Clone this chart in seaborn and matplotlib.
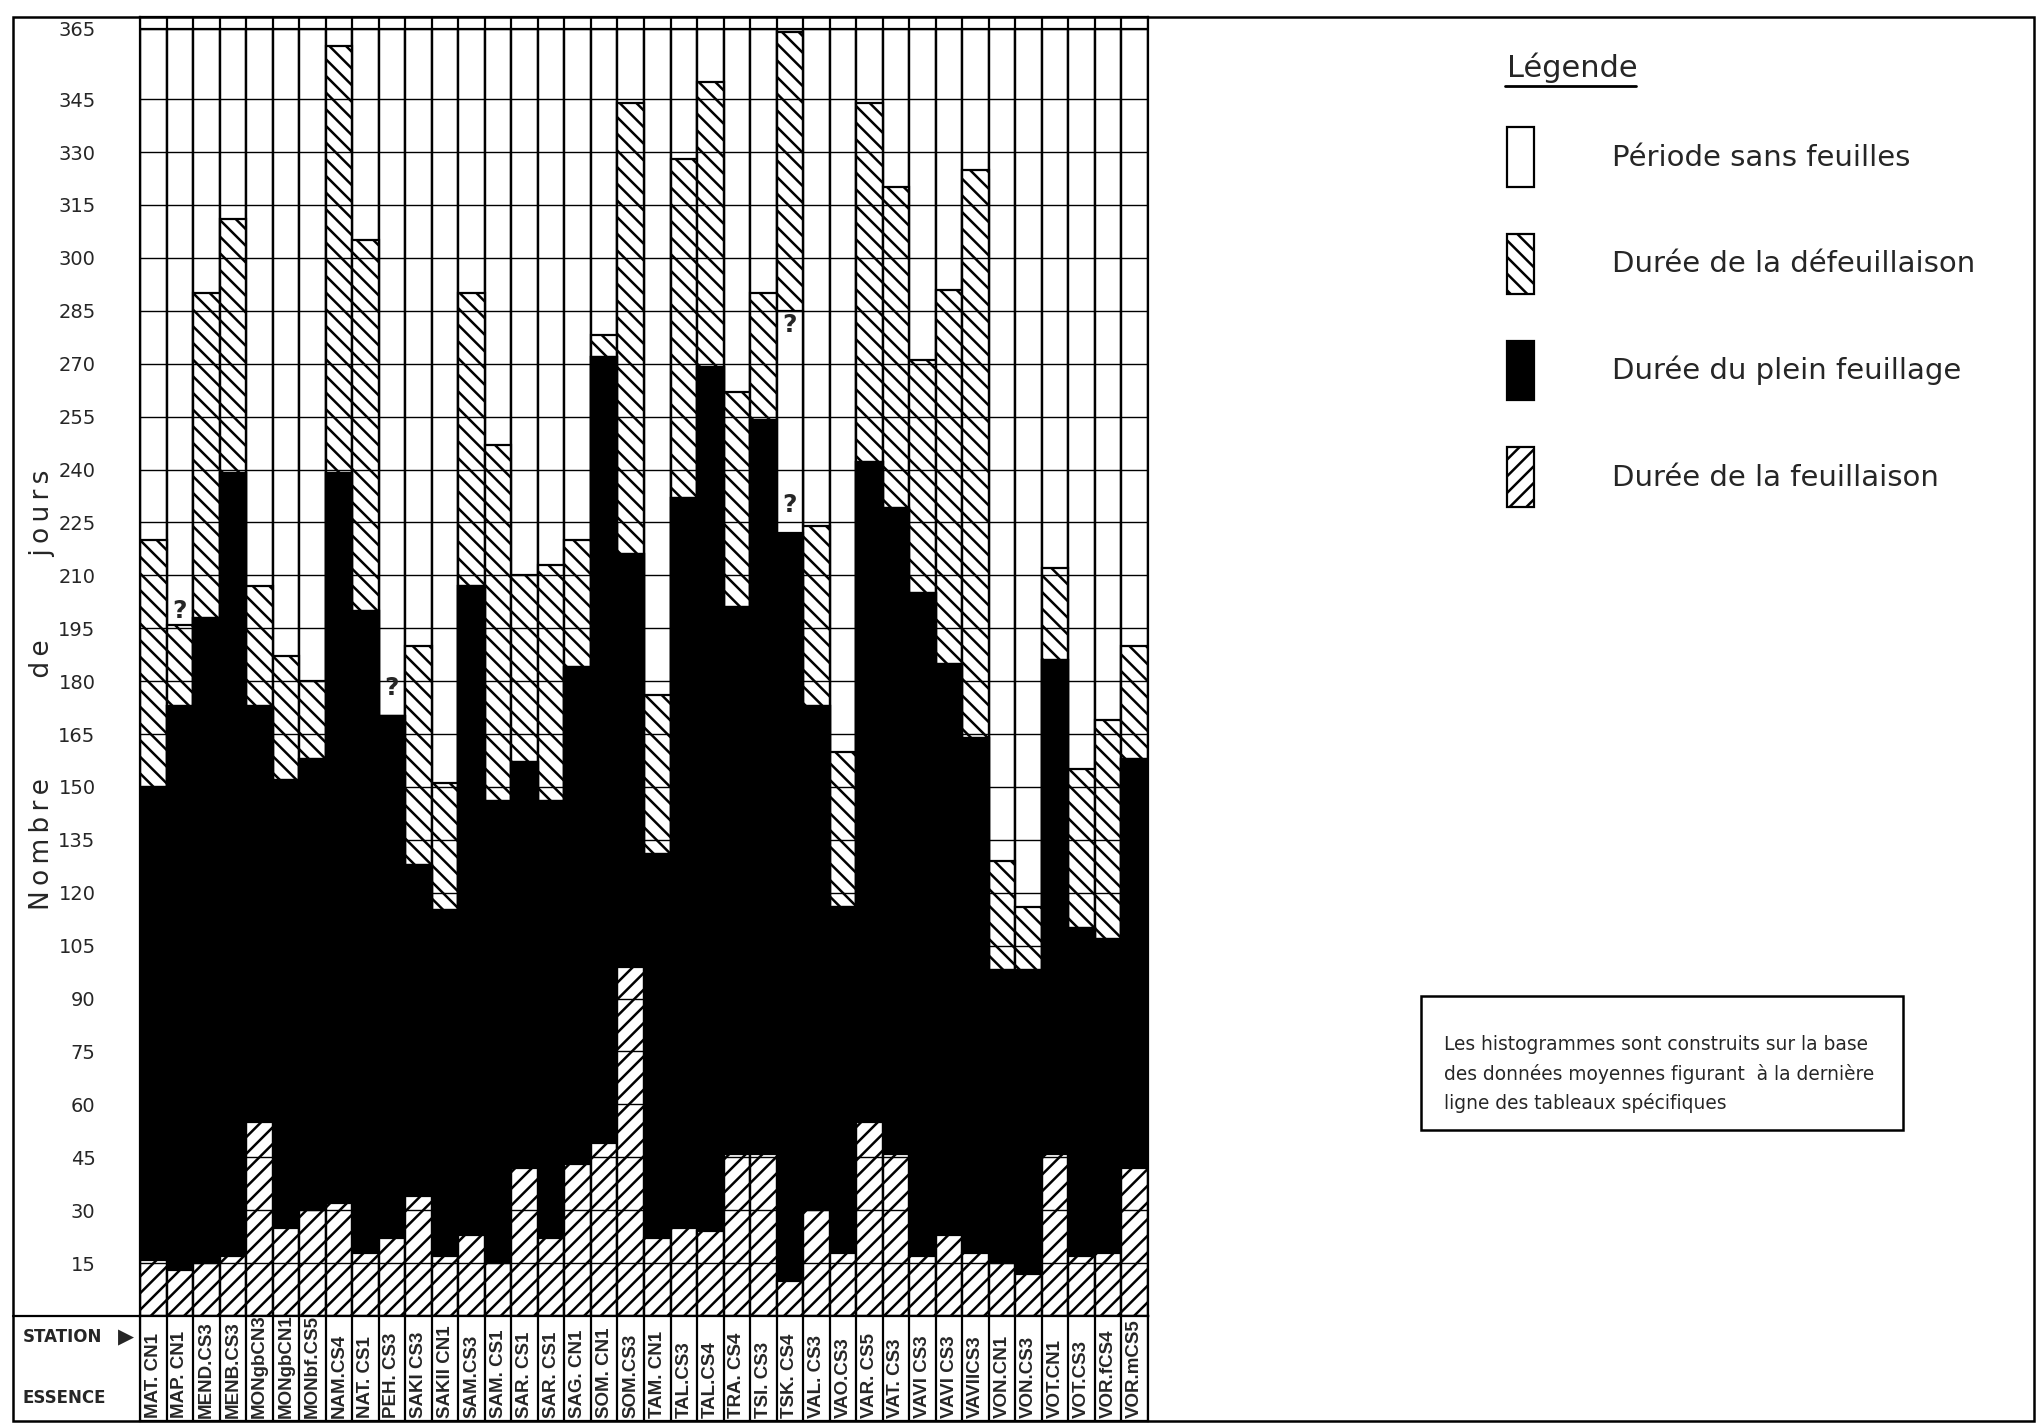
import numpy as np
import pandas as pd
import seaborn as sns
import matplotlib.pyplot as plt
from matplotlib.patches import Patch, Rectangle
from matplotlib.lines import Line2D

# ------------------------------------------------------------------
# Données (jours cumulés depuis le début de l'année)
# ------------------------------------------------------------------
stations = [
    "MAT. CN1", "MAP. CN1", "MEND.CS3", "MENB.CS3", "MONgbCN3", "MONgbCN1",
    "MONbf.CS5", "NAM.CS4", "NAT. CS1", "PEH. CS3", "SAKI CS3", "SAKII CN1",
    "SAM.CS3", "SAM. CS1", "SAR. CS1", "SAR. CS1", "SAG. CN1", "SOM. CN1",
    "SOM.CS3", "TAM. CN1", "TAL.CS3", "TAL.CS4", "TRA. CS4", "TSI. CS3",
    "TSK. CS4", "VAL. CS3", "VAO.CS3", "VAR. CS5", "VAT. CS3", "VAVI CS3",
    "VAVI CS3", "VAVIICS3", "VON.CN1", "VON.CS3", "VOT.CN1", "VOT.CS3",
    "VOR.fCS4", "VOR.mCS5",
]

# fin de la feuillaison (///)
fin_feuillaison = [16, 13, 15, 17, 55, 25, 30, 32, 18, 22, 34, 17, 23, 15, 42, 22, 43, 49, 99,
                   22, 25, 24, 46, 46, 10, 30, 18, 55, 46, 17, 23, 18, 15, 12, 46, 17, 18, 42]
# fin du plein feuillage (noir)
fin_plein_feuillage = [150, 173, 198, 239, 173, 152, 158, 239, 200, 170, 128, 115, 207, 146, 157,
                       146, 184, 272, 216, 131, 232, 269, 201, 254, 222, 173, 116, 242, 229, 205,
                       185, 164, 98, 98, 186, 110, 107, 158]
# début de la défeuillaison (lacune "?" pour TSK. CS4)
debut_defeuillaison = [150, 173, 198, 239, 173, 152, 158, 239, 200, 170, 128, 115, 207, 146, 157,
                       146, 184, 272, 216, 131, 232, 269, 201, 254, 285, 173, 116, 242, 229, 205,
                       185, 164, 98, 98, 186, 110, 107, 158]
# fin de la défeuillaison (\\\)
fin_defeuillaison = [220, 196, 290, 311, 207, 187, 180, 360, 305, 170, 190, 151, 290, 247, 210,
                     213, 220, 278, 344, 176, 328, 350, 262, 290, 364, 224, 160, 344, 320, 271,
                     291, 325, 129, 116, 212, 155, 169, 190]
annee = [365] * len(stations)

graduations = [15, 30, 45, 60, 75, 90, 105, 120, 135, 150, 165, 180, 195, 210, 225,
               240, 255, 270, 285, 300, 315, 330, 345, 365]

# points d'interrogation : (indice station, jour)
incertitudes = [(1, 200), (9, 178), (24, 281), (24, 230)]

legende = ["Période sans feuilles", "Durée de la défeuillaison",
           "Durée du plein feuillage", "Durée de la feuillaison"]

df = pd.DataFrame({
    "poste": np.arange(len(stations)),
    "annee": annee,
    "fin_defeuillaison": fin_defeuillaison,
    "debut_defeuillaison": debut_defeuillaison,
    "fin_plein_feuillage": fin_plein_feuillage,
    "fin_feuillaison": fin_feuillaison,
})

# ------------------------------------------------------------------
# Mise en page
# ------------------------------------------------------------------
sns.set_style("white")
plt.rcParams["font.family"] = ["DejaVu Sans"]
plt.rcParams["hatch.linewidth"] = 1.8
plt.rcParams["hatch.color"] = "black"

W, H = 2037, 1424


def fx(px):
    return px / W


def fy(py):
    return 1 - py / H


fig = plt.figure(figsize=(20.37, 14.24), dpi=100)
ax = fig.add_axes([fx(140), fy(1316), fx(1148) - fx(140), fy(17) - fy(1316)])

# barres superposées : du plus haut au plus bas
couches = [
    ("annee", "white", None),
    ("fin_defeuillaison", "white", "\\\\"),
    ("debut_defeuillaison", "white", None),
    ("fin_plein_feuillage", "black", None),
    ("fin_feuillaison", "white", "//"),
]
for col, couleur, motif in couches:
    sns.barplot(data=df, x="poste", y=col, color=couleur, saturation=1, width=1,
                edgecolor="black", linewidth=1.6, hatch=motif, errorbar=None, ax=ax)

ax.set_xlabel("")
ax.set_ylabel("")
ax.set_ylim(0, 368.3)
ax.set_xlim(-0.5, len(stations) - 0.5)
ax.set_yticks(graduations)
ax.set_yticklabels([str(g) for g in graduations])
ax.tick_params(axis="y", direction="out", length=26, width=1.0, pad=6, labelsize=14)
ax.set_xticks([])
ax.set_xticks(np.arange(-0.5, len(stations)), minor=True)
ax.tick_params(axis="x", which="both", length=0, labelbottom=False)
ax.grid(axis="y", which="major", color="black", lw=1.0)
ax.grid(axis="x", which="minor", color="black", lw=1.6)
ax.set_axisbelow(False)
for s in ax.spines.values():
    s.set_color("black")
    s.set_linewidth(1.6)

for i, jour in incertitudes:
    ax.text(i, jour, "?", ha="center", va="center", fontsize=18, fontweight="bold")

# bandeau des stations
ax_lab = fig.add_axes([fx(140), fy(1421), fx(1148) - fx(140), fy(1316) - fy(1421)])
ax_lab.set_xlim(-0.5, len(stations) - 0.5)
ax_lab.set_ylim(0, 1)
ax_lab.set_xticks([])
ax_lab.set_yticks([])
ax_lab.set_xticks(np.arange(-0.5, len(stations)), minor=True)
ax_lab.tick_params(which="both", length=0)
ax_lab.grid(axis="x", which="minor", color="black", lw=1.6)
for s in ax_lab.spines.values():
    s.set_color("black")
    s.set_linewidth(1.6)
for i, nom in enumerate(stations):
    ax_lab.text(i, 0.03, nom, rotation=90, ha="center", va="bottom", fontsize=13.5,
                fontweight="bold", family=["Liberation Sans", "DejaVu Sans"])

fig.text(fx(23), fy(1337), "STATION", ha="left", va="center", fontsize=12, fontweight="bold")
fig.text(fx(126), fy(1337), "▶", ha="center", va="center", fontsize=15)
fig.text(fx(23), fy(1398), "ESSENCE", ha="left", va="center", fontsize=12, fontweight="bold")

# cadre général
fig.add_artist(Rectangle((fx(13), fy(1421)), fx(2034) - fx(13), fy(17) - fy(1421),
                         transform=fig.transFigure, fill=False, ec="black", lw=1.8))
fig.add_artist(Line2D([fx(13), fx(140)], [fy(1316), fy(1316)], transform=fig.transFigure,
                      color="black", lw=1.6))

# titre de l'axe vertical
fig.text(fx(42), fy(690),
         "N\u2009o\u2009m\u2009b\u2009r\u2009e" + " " * 12 + "d\u2009e" + " " * 10
         + "j\u2009o\u2009u\u2009r\u2009s",
         rotation=90, ha="center", va="center", fontsize=19)

# légende
fig.text(fx(1507), fy(68), "Légende", ha="left", va="center", fontsize=22)
fig.add_artist(Line2D([fx(1505), fx(1636)], [fy(86), fy(86)], transform=fig.transFigure,
                      color="black", lw=2))
poignees = [
    Patch(facecolor="white", edgecolor="black", lw=1.6),
    Patch(facecolor="white", edgecolor="black", lw=1.6, hatch="\\\\"),
    Patch(facecolor="black", edgecolor="black", lw=1.6),
    Patch(facecolor="white", edgecolor="black", lw=1.6, hatch="//"),
]
fig.legend(poignees, legende, loc="upper left", bbox_to_anchor=(fx(1507), fy(127)),
           frameon=False, fontsize=21, handlelength=0.92, handleheight=2.78,
           handletextpad=2.67, labelspacing=1.61, borderpad=0, borderaxespad=0)

# encadré
fig.add_artist(Rectangle((fx(1421), fy(1130)), fx(1903) - fx(1421), fy(996) - fy(1130),
                         transform=fig.transFigure, fill=False, ec="black", lw=1.8))
fig.text(fx(1444), fy(1074),
         "Les histogrammes sont construits sur la base\n"
         "des données moyennes figurant  à la dernière\n"
         "ligne des tableaux spécifiques",
         ha="left", va="center", fontsize=13.4, linespacing=1.6)

fig.savefig("out.png", dpi=100)
